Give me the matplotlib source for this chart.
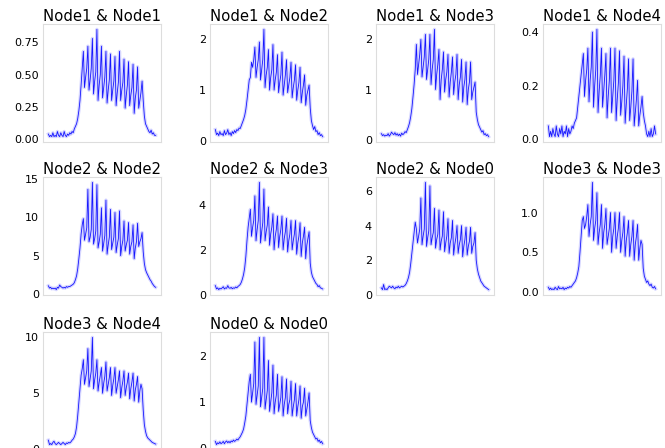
import matplotlib
matplotlib.use("Agg")
import matplotlib.pyplot as plt
from matplotlib.ticker import MaxNLocator
import numpy as np

# 96 samples per day (15 min steps)
titles = ["Node1 & Node1", "Node1 & Node2", "Node1 & Node3", "Node1 & Node4",
          "Node2 & Node2", "Node2 & Node3", "Node2 & Node0", "Node3 & Node3",
          "Node3 & Node4", "Node0 & Node0"]

n1_n1 = [0.04, 0.02, 0.03, 0.02, 0.05, 0.02, 0.03, 0.02, 0.06, 0.03, 0.02, 0.05, 0.03, 0.02, 0.06, 0.03,
         0.02, 0.04, 0.03, 0.05, 0.04, 0.06, 0.05, 0.08, 0.10,
         0.12, 0.16, 0.22, 0.30, 0.42, 0.55, 0.68,
         0.40, 0.48, 0.55, 0.72, 0.38, 0.46, 0.55, 0.78, 0.35, 0.45, 0.52, 0.85, 0.30, 0.42, 0.50, 0.72,
         0.32, 0.40, 0.48, 0.68, 0.28, 0.38, 0.46, 0.66, 0.30, 0.38, 0.45, 0.64, 0.26, 0.36, 0.44, 0.68,
         0.30, 0.38, 0.44, 0.62, 0.24, 0.34, 0.42, 0.60, 0.26, 0.34, 0.40, 0.58, 0.20, 0.32, 0.38, 0.56,
         0.24, 0.30, 0.36, 0.45,
         0.30, 0.18, 0.12, 0.10, 0.08, 0.06, 0.05, 0.07, 0.04, 0.05, 0.03, 0.03]

n1_n2 = [0.22, 0.12, 0.15, 0.10, 0.18, 0.12, 0.14, 0.10, 0.20, 0.12, 0.15, 0.22, 0.12, 0.16, 0.10, 0.18,
         0.14, 0.20, 0.16, 0.22, 0.20, 0.25, 0.24, 0.30, 0.36,
         0.42, 0.50, 0.62, 0.80, 1.00, 1.20, 1.25,
         1.55, 1.45, 1.60, 1.85, 1.25, 1.45, 1.60, 1.95, 1.20, 1.40, 1.60, 2.20, 1.05, 1.30, 1.45, 1.80,
         1.00, 1.25, 1.40, 1.90, 1.00, 1.20, 1.35, 1.70, 0.95, 1.15, 1.30, 1.75, 0.90, 1.10, 1.30, 1.60,
         0.95, 1.10, 1.25, 1.55, 0.85, 1.05, 1.20, 1.50, 0.80, 1.00, 1.15, 1.45, 0.75, 0.95, 1.10, 1.30,
         0.70, 0.90, 1.00, 1.10,
         0.65, 0.40, 0.30, 0.22, 0.28, 0.18, 0.20, 0.12, 0.16, 0.10, 0.12, 0.08]

n1_n3 = [0.12, 0.08, 0.10, 0.07, 0.09, 0.08, 0.12, 0.07, 0.10, 0.15, 0.12, 0.10, 0.14, 0.09, 0.12, 0.08,
         0.11, 0.07, 0.13, 0.10, 0.12, 0.16, 0.14, 0.20, 0.26,
         0.34, 0.46, 0.62, 0.85, 1.10, 1.40, 1.90,
         1.30, 1.50, 1.70, 2.00, 1.25, 1.45, 1.65, 2.10, 1.20, 1.40, 1.60, 2.10, 1.10, 1.40, 1.60, 2.20,
         1.00, 1.30, 1.50, 1.80, 0.80, 1.20, 1.40, 1.75, 0.95, 1.20, 1.35, 1.70, 0.85, 1.15, 1.35, 1.65,
         0.90, 1.15, 1.30, 1.70, 0.80, 1.10, 1.25, 1.60, 0.75, 1.05, 1.20, 1.55, 0.70, 1.00, 1.15, 1.55,
         0.80, 0.95, 1.05, 1.15,
         0.55, 0.40, 0.30, 0.25, 0.20, 0.15, 0.18, 0.10, 0.12, 0.08, 0.10, 0.06]

n1_n4 = [0.05, 0.01, 0.03, 0.01, 0.04, 0.02, 0.01, 0.05, 0.02, 0.01, 0.04, 0.02, 0.05, 0.01, 0.03, 0.02,
         0.05, 0.01, 0.04, 0.02, 0.03, 0.05, 0.04, 0.06, 0.07,
         0.08, 0.12, 0.16, 0.20, 0.24, 0.28, 0.32,
         0.16, 0.22, 0.26, 0.34, 0.14, 0.22, 0.27, 0.40, 0.12, 0.20, 0.26, 0.41, 0.10, 0.18, 0.24, 0.34,
         0.12, 0.18, 0.24, 0.32, 0.08, 0.16, 0.22, 0.34, 0.10, 0.16, 0.22, 0.34, 0.07, 0.15, 0.21, 0.33,
         0.09, 0.14, 0.20, 0.31, 0.06, 0.13, 0.19, 0.30, 0.07, 0.12, 0.18, 0.30, 0.05, 0.10, 0.15, 0.22,
         0.05, 0.09, 0.12, 0.16,
         0.10, 0.07, 0.05, 0.02, 0.01, 0.03, 0.01, 0.04, 0.01, 0.02, 0.05, 0.02]

n2_n2 = [1.10, 0.80, 0.90, 0.70, 0.80, 0.70, 0.80, 0.60, 0.90, 0.80, 1.20, 1.00, 0.90, 0.80, 0.90, 0.80,
         1.00, 0.90, 1.00, 1.00, 1.10, 1.20, 1.30, 1.50, 1.90,
         2.40, 3.30, 4.60, 6.00, 7.80, 9.00, 9.80,
         7.00, 7.80, 8.60, 13.6, 6.80, 7.40, 8.40, 14.5, 6.50, 7.20, 8.20, 14.2, 6.00, 6.80, 7.80, 11.2,
         5.60, 6.60, 7.60, 12.2, 5.20, 6.40, 7.40, 11.0, 5.80, 6.60, 7.40, 10.6, 5.40, 6.40, 7.20, 10.8,
         5.00, 6.20, 7.00, 9.50, 5.60, 6.40, 7.00, 9.30, 5.20, 6.20, 6.80, 9.00, 4.60, 6.00, 6.80, 9.20,
         6.20, 6.80, 7.20, 8.00,
         5.50, 4.00, 3.20, 2.80, 2.50, 2.20, 1.90, 1.70, 1.40, 1.20, 1.00, 0.90]

n2_n3 = [0.40, 0.25, 0.30, 0.22, 0.28, 0.25, 0.30, 0.35, 0.25, 0.30, 0.28, 0.40, 0.30, 0.28, 0.32, 0.26,
         0.30, 0.28, 0.34, 0.30, 0.36, 0.40, 0.45, 0.55, 0.70,
         0.90, 1.20, 1.70, 2.40, 3.00, 3.40, 3.80,
         2.60, 3.00, 3.30, 4.40, 2.40, 2.90, 3.30, 5.00, 2.30, 2.80, 3.20, 4.70, 2.40, 2.80, 3.10, 3.90,
         2.20, 2.70, 3.00, 3.60, 2.00, 2.60, 2.90, 3.50, 2.10, 2.60, 2.90, 3.50, 2.00, 2.50, 2.80, 3.40,
         1.90, 2.40, 2.70, 3.30, 2.00, 2.40, 2.70, 3.30, 1.80, 2.30, 2.60, 3.20, 1.70, 2.30, 2.60, 3.00,
         1.60, 2.20, 2.50, 2.80,
         1.40, 1.00, 0.80, 0.70, 0.60, 0.50, 0.45, 0.35, 0.40, 0.30, 0.28, 0.25]

n2_n0 = [0.40, 0.30, 0.60, 0.30, 0.35, 0.30, 0.40, 0.50, 0.45, 0.40, 0.50, 0.40, 0.35, 0.45, 0.40, 0.50,
         0.40, 0.45, 0.50, 0.45, 0.50, 0.55, 0.65, 0.80, 1.00,
         1.30, 1.80, 2.40, 3.00, 3.60, 4.20, 3.80,
         3.00, 3.40, 3.80, 5.60, 2.90, 3.40, 3.80, 6.50, 2.80, 3.30, 3.70, 6.30, 2.90, 3.30, 3.60, 5.00,
         2.70, 3.20, 3.50, 4.90, 2.60, 3.10, 3.40, 4.80, 2.50, 3.00, 3.40, 4.40, 2.40, 3.00, 3.30, 4.30,
         2.30, 2.90, 3.30, 4.00, 2.40, 2.90, 3.20, 4.00, 2.20, 2.80, 3.20, 3.90, 2.30, 2.80, 3.10, 3.90,
         2.40, 2.80, 3.00, 3.60,
         2.00, 1.50, 1.20, 1.00, 0.80, 0.70, 0.60, 0.50, 0.45, 0.40, 0.35, 0.30]

n3_n3 = [0.06, 0.03, 0.05, 0.03, 0.04, 0.03, 0.06, 0.04, 0.03, 0.07, 0.04, 0.05, 0.04, 0.06, 0.03, 0.05,
         0.04, 0.06, 0.05, 0.07, 0.06, 0.08, 0.10, 0.12, 0.14,
         0.18, 0.24, 0.32, 0.50, 0.70, 0.90, 0.95,
         0.80, 0.85, 0.95, 1.10, 0.70, 0.85, 0.95, 1.38, 0.65, 0.80, 0.90, 1.25, 0.60, 0.75, 0.85, 1.10,
         0.55, 0.75, 0.85, 1.05, 0.60, 0.70, 0.80, 1.00, 0.50, 0.70, 0.80, 1.00, 0.55, 0.70, 0.80, 1.00,
         0.50, 0.65, 0.75, 0.95, 0.45, 0.65, 0.75, 0.90, 0.45, 0.60, 0.70, 0.90, 0.40, 0.60, 0.70, 0.85,
         0.40, 0.55, 0.65, 0.60,
         0.30, 0.20, 0.16, 0.12, 0.14, 0.10, 0.08, 0.10, 0.06, 0.05, 0.07, 0.04]

n3_n4 = [0.80, 0.40, 0.50, 0.40, 0.60, 0.70, 0.50, 0.40, 0.50, 0.60, 0.50, 0.40, 0.50, 0.60, 0.50, 0.40,
         0.55, 0.50, 0.60, 0.55, 0.65, 0.80, 0.90, 1.10, 1.40,
         2.00, 3.00, 4.20, 5.40, 6.60, 7.20, 8.00,
         5.80, 6.40, 7.00, 9.00, 5.60, 6.30, 7.00, 10.0, 5.40, 6.20, 6.80, 8.00, 5.20, 6.00, 6.60, 7.30,
         5.00, 5.90, 6.50, 7.80, 5.20, 5.80, 6.40, 7.30, 4.80, 5.70, 6.30, 7.30, 5.00, 5.60, 6.20, 7.00,
         4.60, 5.50, 6.10, 7.00, 4.80, 5.50, 6.00, 6.80, 4.50, 5.40, 6.00, 6.80, 4.30, 5.30, 5.80, 6.50,
         4.20, 5.20, 5.80, 5.40,
         3.50, 2.20, 1.60, 1.20, 1.00, 0.90, 0.80, 0.70, 0.60, 0.55, 0.50, 0.45]

n0_n0 = [0.15, 0.08, 0.12, 0.10, 0.14, 0.10, 0.12, 0.15, 0.10, 0.14, 0.16, 0.12, 0.15, 0.12, 0.16, 0.14,
         0.18, 0.15, 0.17, 0.20, 0.18, 0.22, 0.25, 0.30, 0.35,
         0.42, 0.55, 0.70, 0.95, 1.20, 1.45, 1.60,
         1.00, 1.20, 1.40, 2.30, 0.95, 1.15, 1.35, 2.40, 0.90, 1.10, 1.30, 2.40, 0.85, 1.05, 1.25, 1.90,
         0.80, 1.00, 1.20, 1.80, 0.75, 1.00, 1.15, 1.60, 0.80, 0.95, 1.10, 1.55, 0.70, 0.95, 1.10, 1.50,
         0.75, 0.95, 1.05, 1.45, 0.70, 0.90, 1.05, 1.40, 0.70, 0.90, 1.05, 1.35, 0.65, 0.90, 1.00, 1.30,
         0.70, 0.85, 1.00, 1.20,
         0.60, 0.45, 0.35, 0.30, 0.25, 0.20, 0.22, 0.15, 0.18, 0.12, 0.15, 0.10]

series = [n1_n1, n1_n2, n1_n3, n1_n4, n2_n2, n2_n3, n2_n0, n3_n3, n3_n4, n0_n0]

W, H = 665, 448
fig = plt.figure(figsize=(W / 100, H / 100), dpi=100)

col_left = [43, 210, 376, 543]
row_top = [24, 177, 332]
aw, ah = 118, 118

for k, (title, vals) in enumerate(zip(titles, series)):
    r, c = divmod(k, 4)
    ax = fig.add_axes([col_left[c] / W, 1 - (row_top[r] + ah) / H, aw / W, ah / H])
    x = np.arange(len(vals))
    ax.plot(x, vals, color="blue", lw=2.4, alpha=0.16)
    ax.plot(x, vals, color="blue", lw=0.6, alpha=0.9)
    ax.set_title(title, fontsize=10.7, pad=2)
    ax.set_xticks([])
    ax.yaxis.set_major_locator(MaxNLocator(4, steps=[1, 2, 2.5, 5, 10]))
    ax.tick_params(axis="y", length=0, labelsize=8, pad=3)
    for s in ax.spines.values():
        s.set_color("#dddddd")
        s.set_linewidth(0.8)

fig.savefig("out.png", dpi=100)
